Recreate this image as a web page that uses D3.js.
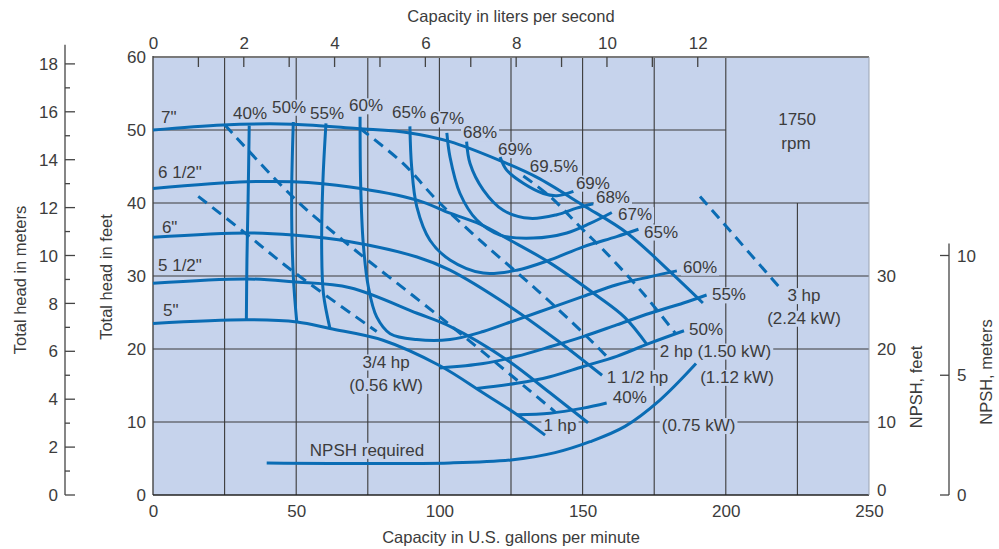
<!DOCTYPE html>
<html><head><meta charset="utf-8">
<script src="https://cdn.jsdelivr.net/npm/d3@7"></script>
<style>
body{margin:0;background:#fff;}
svg text{font-family:"Liberation Sans",Arial,sans-serif;fill:#3c3c3c;}
</style></head><body>
<svg id="c" width="999" height="549"></svg>
<script>
// ---------- axis ticks ----------
const gpmTicks = [0, 50, 100, 150, 200, 250];
const feetTicks = [0, 10, 20, 30, 40, 50, 60];
const lpsLabels = [0, 2, 4, 6, 8, 10, 12];
const lpsTicks = [1, 2, 3, 4, 5, 6, 7, 8, 9, 10, 11, 12];
const meterMajor = [0, 2, 4, 6, 8, 10, 12, 14, 16, 18];
const meterMinor = [1, 3, 5, 7, 9, 11, 13, 15, 17];
const npshFeetTicks = [0, 10, 20, 30];
const npshMeterTicks = [0, 5, 10];
const gridGpm = [25, 50, 75, 100, 125, 150, 175, 200, 225];
const gridFeet = [10, 20, 30, 40, 50];

// ---------- head-capacity curves (gpm, ft) ----------
const head7   = [[0,50.0],[24.4,50.7],[48.9,50.8],[71.2,50.2],[89.7,49.6],[103.7,48.4],[121.2,45.8],[134.1,43.5],[150.1,39.7],[165.5,35.9],[180.5,30.6],[192.0,26.3]];
const head6h  = [[0,42.0],[32.8,42.9],[48.9,42.9],[68.8,42.2],[92.2,40.4],[103.7,38.6],[114.2,37.1],[124.7,34.9],[138.6,31.8],[155.0,27.3],[164.8,24.3],[172.5,20.6]];
const head6   = [[0,35.3],[32.8,35.9],[48.9,35.6],[68.8,34.7],[92.2,32.6],[103.7,30.8],[124.7,25.8],[141.1,21.2],[156.8,16.4]];
const head5h  = [[0,29.0],[32.8,29.6],[48.9,29.2],[68.8,28.4],[92.2,24.9],[103.7,23.1],[123.6,18.5],[138.6,14.0],[151.9,9.9]];
const head5   = [[0,23.5],[32.8,24.0],[50.3,23.7],[61.8,22.8],[80.3,21.2],[100.2,17.7],[115.2,14.0],[126.4,11.2],[136.9,8.2]];

// ---------- efficiency contours ----------
const eff40L = [[33.6,50.6],[33.2,40.4],[32.8,32.2],[32.6,24.0]];
const eff50L = [[49.0,51.1],[48.4,40.4],[49.0,29.9],[50.2,23.7]];
const eff55L = [[60.4,50.9],[59.3,42.7],[58.9,33.6],[59.5,27.6],[61.8,22.8]];
const eff60  = [[72.3,51.8],[72.5,42.7],[73.4,34.5],[75.2,28.5],[78.1,24.4],[82.8,22.1],[92.1,21.3],[103.7,21.3],[115.3,22.4],[127.0,24.0],[138.6,25.6],[150.2,27.2],[161.9,28.8],[173.5,29.9],[182.9,30.7]];
const eff55R = [[100.2,17.4],[115.3,18.0],[127.0,19.0],[138.6,20.3],[150.2,21.7],[161.9,23.3],[173.5,24.9],[185.2,26.3],[193.3,27.4]];
const eff50R = [[113.0,14.6],[127.0,15.3],[138.6,16.2],[150.2,17.6],[161.9,19.0],[173.5,20.8],[185.4,22.5]];
const eff40R = [[127.0,11.0],[138.6,11.2],[150.2,11.9],[158.4,12.6]];
const eff65  = [[89.7,50.5],[90.3,45.0],[92.1,39.5],[96.7,34.9],[103.7,32.2],[115.3,30.4],[127.0,30.8],[138.6,32.2],[150.2,34.0],[161.9,35.4],[169.5,36.4]];
const eff67  = [[102.6,49.6],[103.7,46.3],[107.2,41.3],[113.0,37.7],[121.2,35.6],[132.8,35.2],[144.5,35.9],[152.6,37.2],[160.2,38.7]];
const eff68  = [[109.5,48.4],[110.7,45.4],[115.3,41.8],[122.3,39.0],[131.6,37.9],[141.0,38.4],[147.9,39.3],[153.7,39.9]];
const eff69  = [[121.2,46.3],[123.5,44.5],[129.3,42.7],[136.3,41.3],[141.0,41.0],[146.8,41.6]];

// ---------- brake horsepower lines (dashed) ----------
const hp075 = [[15.8,40.9],[32.1,35.9],[49.0,30.6],[78.1,22.4]];
const hp1   = [[25.1,50.7],[48.9,40.8],[66.3,34.9],[102.7,23.6],[140.4,11.4]];
const hp15  = [[72.3,50.2],[87.4,45.4],[99.1,40.4],[115.3,34.5],[134.0,28.1],[150.2,22.2],[158.4,19.0]];
const hp2   = [[129.3,43.7],[138.6,40.9],[150.2,36.3],[157.2,33.6],[171.2,27.6],[182.3,22.2]];
const hp3   = [[191.0,40.9],[219.5,28.1]];

// ---------- NPSH required (gpm, ft) ----------
const npsh = [[39.7,4.4],[103.7,4.4],[125.0,4.8],[140.4,5.8],[152.6,7.3],[164.8,9.4],[177.0,13.0],[189.6,18.0]];

// ---------- annotations [text, gpm, ft] ----------
const impellerLabels = [['7"',2.8,51.8],['6 1/2"',1.75,44.25],['6"',3.1,36.7],['5 1/2"',1.75,31.5],['5"',3.5,25.3]];
const effLabels = [['40%',33.9,52.3],['50%',47.5,53.2],['55%',60.8,52.3],['60%',74.4,53.4],['65%',89.4,52.5],['67%',102.7,51.6],['68%',114.2,49.7],['69%',126.4,47.4],['69.5%',140.0,45.1],['69%',153.6,42.8],['68%',160.6,40.8],['67%',168.3,38.5],['65%',177.4,36.1],['60%',191.0,31.3],['55%',201.1,27.5],['50%',193.1,22.7],['40%',166.5,13.5]];
const otherLabels = [['1750',224.9,51.5],['rpm',224.5,48.3],['3 hp',227.3,27.4],['(2.24 kW)',227.3,24.3],['2 hp (1.50 kW)',196.4,19.8],['1 1/2 hp',169.2,16.2],['(1.12 kW)',203.9,16.2],['1 hp',142.1,9.6],['(0.75 kW)',190.5,9.6],['3/4 hp',81.4,18.3],['(0.56 kW)',81.4,15.1],['NPSH required',74.7,6.2]];

const GPM_PER_LPS = 15.8503, FT_PER_M = 3.28084;

// ---------- scales ----------
const x = d3.scaleLinear().domain([0,250]).range([153,869]);
const y = d3.scaleLinear().domain([0,60]).range([495,57]);
const xL = d3.scaleLinear().domain([0,250/GPM_PER_LPS]).range([153,869]);
const yM = d3.scaleLinear().domain([0,60/FT_PER_M]).range([495,57]);

const BLUE = '#0a6cb4', FILL = '#c6d3ec', GRID = '#3a3a3a', TXT = '#3c3c3c';
const svg = d3.select('#c');

// plot background
svg.append('rect').attr('x',x(0)).attr('y',y(60)).attr('width',x(250)-x(0)).attr('height',y(0)-y(60)).attr('fill',FILL);

// grid
const g = svg.append('g');
gridGpm.forEach(v=>{
  const top = v===225 ? 40 : 60;
  g.append('line').attr('x1',x(v)).attr('x2',x(v)).attr('y1',y(0)).attr('y2',y(top)).attr('stroke',GRID).attr('stroke-width',1.1);
});
gridFeet.forEach(v=>{
  const right = v===50 ? 200 : 250;
  g.append('line').attr('x1',x(0)).attr('x2',x(right)).attr('y1',y(v)).attr('y2',y(v)).attr('stroke',GRID).attr('stroke-width',1.1);
});

// frame
svg.append('line').attr('x1',x(0)).attr('x2',x(250)).attr('y1',y(60)).attr('y2',y(60)).attr('stroke','#7a7a7a').attr('stroke-width',2.2);
svg.append('line').attr('x1',x(0)).attr('x2',x(0)).attr('y1',y(60)-1).attr('y2',y(0)).attr('stroke','#444').attr('stroke-width',1.4);
svg.append('line').attr('x1',x(0)).attr('x2',x(250)).attr('y1',y(0)).attr('y2',y(0)).attr('stroke','#222').attr('stroke-width',1.4);
svg.append('line').attr('x1',x(250)).attr('x2',x(250)).attr('y1',y(60)).attr('y2',y(0)).attr('stroke','#9aa3b3').attr('stroke-width',1);

// top L/s ticks inside the plot
lpsTicks.forEach(v=>{
  svg.append('line').attr('x1',xL(v)).attr('x2',xL(v)).attr('y1',y(60)).attr('y2',y(60)+10).attr('stroke','#444').attr('stroke-width',1.3);
});

// label layers
const labelBg = svg.append('g');
const curves = svg.append('g').attr('fill','none').attr('stroke',BLUE).attr('stroke-width',3).attr('stroke-linecap','butt');
const labelTxt = svg.append('g').attr('font-size',17).attr('fill',TXT);

const line = d3.line().x(d=>x(d[0])).y(d=>y(d[1])).curve(d3.curveCatmullRom.alpha(0.5));
[head7,head6h,head6,head5h,head5,eff40L,eff50L,eff55L,eff60,eff55R,eff50R,eff40R,eff65,eff67,eff68,eff69,npsh]
  .forEach(s=>curves.append('path').attr('d',line(s)));
[hp075,hp1,hp15,hp2,hp3].forEach(s=>curves.append('path').attr('d',line(s)).attr('stroke-dasharray','11,7'));

function addLabel(t,gx,gy,anchor){
  const el = labelTxt.append('text').attr('x',x(gx)).attr('y',y(gy)).attr('dy','0.36em')
    .attr('text-anchor',anchor||'middle').text(t);
  const b = el.node().getBBox();
  labelBg.append('rect').attr('x',b.x-2).attr('y',b.y+2).attr('width',b.width+4).attr('height',b.height-3).attr('fill',FILL);
}
impellerLabels.forEach(d=>addLabel(d[0],d[1],d[2],'start'));
effLabels.forEach(d=>addLabel(d[0],d[1],d[2]));
otherLabels.forEach(d=>addLabel(d[0],d[1],d[2]));

// ---------- axes ----------
const fs = 17;
const ax = svg.append('g').attr('transform',`translate(0,${y(0)})`)
  .call(d3.axisBottom(x).tickValues(gpmTicks).tickSize(0).tickPadding(10));
const ayf = svg.append('g').attr('transform',`translate(${x(0)},0)`)
  .call(d3.axisLeft(y).tickValues(feetTicks).tickSize(0).tickPadding(7));
const axt = svg.append('g').attr('transform',`translate(0,${y(60)})`)
  .call(d3.axisTop(xL).tickValues(lpsLabels).tickSize(0).tickPadding(8));
const ayr = svg.append('g').attr('transform',`translate(${x(250)},0)`)
  .call(d3.axisRight(y).tickValues(npshFeetTicks).tickSize(0).tickPadding(8));
[ax,ayf,axt,ayr].forEach(a=>{
  a.select('.domain').remove();
  a.selectAll('text').attr('font-size',fs).attr('fill',TXT).attr('font-family','"Liberation Sans",Arial,sans-serif');
});
// lift the right-hand "0" a little so it clears the "250" below it
ayr.selectAll('.tick').filter(d=>d===0).select('text').attr('dy','0.05em');

// meters axis (far left)
const mX = 65;
const mTop = 18.8;
const mg = svg.append('g').attr('stroke','#444').attr('stroke-width',1.3);
mg.append('line').attr('x1',mX).attr('x2',mX).attr('y1',yM(0)).attr('y2',yM(mTop));
meterMajor.forEach(v=>mg.append('line').attr('x1',mX).attr('x2',mX+10).attr('y1',yM(v)).attr('y2',yM(v)));
meterMinor.forEach(v=>mg.append('line').attr('x1',mX).attr('x2',mX+5).attr('y1',yM(v)).attr('y2',yM(v)));
meterMajor.forEach(v=>svg.append('text').attr('x',mX-7).attr('y',yM(v)).attr('dy','0.36em').attr('text-anchor','end').attr('font-size',fs).attr('fill',TXT).text(v));

// NPSH meters axis (far right)
const nX = 949;
const nTop = 10.5;
const ng = svg.append('g').attr('stroke','#444').attr('stroke-width',1.3);
ng.append('line').attr('x1',nX).attr('x2',nX).attr('y1',yM(0)).attr('y2',yM(nTop));
npshMeterTicks.forEach(v=>ng.append('line').attr('x1',nX-9).attr('x2',nX).attr('y1',yM(v)).attr('y2',yM(v)));
npshMeterTicks.forEach(v=>svg.append('text').attr('x',nX+8).attr('y',yM(v)).attr('dy','0.36em').attr('text-anchor','start').attr('font-size',fs).attr('fill',TXT).text(v));

// axis titles
const tfs = 16.5;
svg.append('text').attr('x',511).attr('y',16).attr('dy','0.36em').attr('text-anchor','middle').attr('font-size',tfs).text('Capacity in liters per second');
svg.append('text').attr('x',511).attr('y',537).attr('dy','0.36em').attr('text-anchor','middle').attr('font-size',tfs).text('Capacity in U.S. gallons per minute');
function vtitle(t,cx,cy){
  svg.append('text').attr('transform',`translate(${cx},${cy}) rotate(-90)`).attr('dy','0.36em').attr('text-anchor','middle').attr('font-size',tfs).text(t);
}
vtitle('Total head in meters',20,280);
vtitle('Total head in feet',106,277);
vtitle('NPSH, feet',916,387);
vtitle('NPSH, meters',986,372);
</script>
</body></html>
